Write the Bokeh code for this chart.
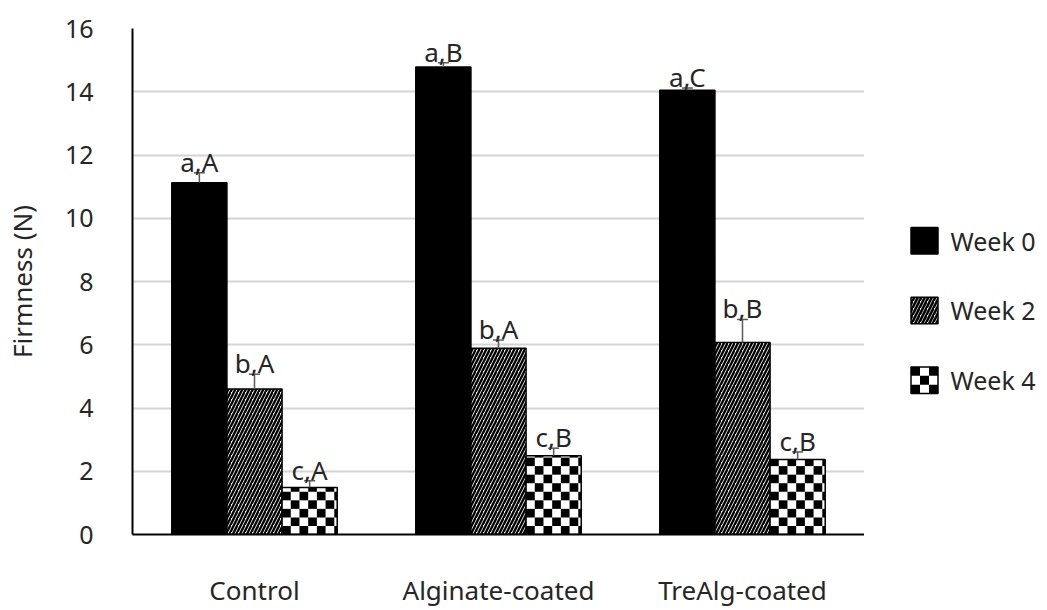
import math
from bokeh.plotting import figure
from bokeh.layouts import row
from bokeh.models import ColumnDataSource, FactorRange, Range1d, FixedTicker
from bokeh.transform import dodge
from bokeh.core.properties import value
from bokeh.embed import file_html
from bokeh.resources import INLINE

# Firmness of fruit (N) by coating treatment over storage time
categories = ["Control", "Alginate-coated", "TreAlg-coated"]
series_names = ["Week 0", "Week 2", "Week 4"]

week0 = [11.12, 14.78, 14.05]
week0_err = [0.32, 0.14, 0.07]
week0_lbl = ["a,A", "a,B", "a,C"]

week2 = [4.60, 5.89, 6.07]
week2_err = [0.47, 0.26, 0.73]
week2_lbl = ["b,A", "b,A", "b,B"]

week4 = [1.49, 2.49, 2.37]
week4_err = [0.21, 0.24, 0.24]
week4_lbl = ["c,A", "c,B", "c,B"]

y_ticks = [0, 2, 4, 6, 8, 10, 12, 14, 16]

FONT = "Noto Sans"
TEXT_COLOR = "#262626"
FS = "25px"
FS_LABEL = "26px"
ERR_COLOR = "#595959"

# ---------------------------------------------------------------- main chart
PLOT_W, PLOT_H = 864, 610
BORDER_L, BORDER_T, BORDER_B = 132, 28, 67
Y_MAX = 16

p = figure(
    x_range=FactorRange(*categories, range_padding=0),
    y_range=Range1d(0, Y_MAX),
    width=PLOT_W, height=PLOT_H,
    min_border_left=BORDER_L, min_border_right=0,
    min_border_top=BORDER_T, min_border_bottom=BORDER_B,
    toolbar_location=None, output_backend="svg",
)
p.outline_line_color = None
p.background_fill_color = "white"
p.border_fill_color = "white"

p.yaxis.ticker = FixedTicker(ticks=y_ticks)
p.yaxis.axis_label = "Firmness (N)"
p.yaxis.axis_label_text_font = FONT
p.yaxis.axis_label_text_font_size = FS_LABEL
p.yaxis.axis_label_text_font_style = "normal"
p.yaxis.axis_label_text_color = TEXT_COLOR
p.yaxis.axis_label_standoff = 22
for ax in (p.xaxis, p.yaxis):
    ax.major_label_text_font = FONT
    ax.major_label_text_font_size = FS
    ax.major_label_text_color = TEXT_COLOR
    ax.major_tick_line_color = None
    ax.minor_tick_line_color = None
    ax.axis_line_color = "black"
    ax.axis_line_width = 2
p.xaxis.major_label_text_font_size = FS_LABEL
p.yaxis.major_label_standoff = 33
p.xaxis.major_label_standoff = 31

p.xgrid.grid_line_color = None
p.ygrid.grid_line_color = "#d4d4d4"
p.ygrid.grid_line_width = 2

src = ColumnDataSource(dict(
    cat=categories,
    w0=week0, w0_top=[v + e for v, e in zip(week0, week0_err)], w0_lbl=week0_lbl,
    w2=week2, w2_top=[v + e for v, e in zip(week2, week2_err)], w2_lbl=week2_lbl,
    w4=week4, w4_top=[v + e for v, e in zip(week4, week4_err)], w4_lbl=week4_lbl,
))

bw = 0.226
offsets = [-bw, 0.0, bw]
keys = ["w0", "w2", "w4"]

# bars
x0 = dodge("cat", offsets[0], range=p.x_range)
x2 = dodge("cat", offsets[1], range=p.x_range)
x4 = dodge("cat", offsets[2], range=p.x_range)
p.vbar(x=x0, top="w0", width=bw, source=src, fill_color="black",
       line_color="black", line_width=1.5)
p.vbar(x=x2, top="w2", width=bw, source=src, fill_color="white",
       hatch_pattern=value("/"), hatch_color="black", hatch_scale=7,
       hatch_weight=2.4, line_color="black", line_width=1.5)
p.vbar(x=x4, top="w4", width=bw, source=src, fill_color="white",
       line_color=None)

# checkerboard fill of the Week 4 bars, cut to each bar's height
frame_w = PLOT_W - BORDER_L
frame_h = PLOT_H - BORDER_T - BORDER_B
cell_px = 8.7
sx = cell_px / (frame_w / len(categories))
sy = cell_px / (frame_h / Y_MAX)
ql, qr, qb, qt = [], [], [], []
for i, v in enumerate(week4):
    left = i + 0.5 + offsets[2] - bw / 2
    right = left + bw
    for c in range(math.ceil(bw / sx)):
        for r in range(math.ceil(v / sy)):
            if (c + r) % 2:
                continue
            ql.append(left + c * sx)
            qr.append(min(left + (c + 1) * sx, right))
            qb.append(r * sy)
            qt.append(min((r + 1) * sy, v))
p.quad(left=ql, right=qr, bottom=qb, top=qt, fill_color="black", line_color=None)
p.vbar(x=x4, top="w4", width=bw, source=src, fill_color=None,
       line_color="black", line_width=1.5)

# error bars and significance letters
for key, xs in zip(keys, (x0, x2, x4)):
    p.segment(x0=xs, y0=key, x1=xs, y1=key + "_top", source=src,
              line_color=ERR_COLOR, line_width=1.5)
    p.scatter(x=xs, y=key + "_top", marker="dash", size=11, source=src,
              line_color=ERR_COLOR, line_width=1.5)
    p.text(x=xs, y=key + "_top", text=key + "_lbl", source=src,
           text_align="center", text_baseline="alphabetic", y_offset=-11,
           text_font=value(FONT), text_font_size=FS_LABEL, text_color=TEXT_COLOR)

# ---------------------------------------------------------------- legend panel
# drawn in page pixels: x from the panel's left edge, y from the page top
LEG_W = 1047 - PLOT_W
lg = figure(
    width=LEG_W, height=PLOT_H,
    x_range=Range1d(0, LEG_W), y_range=Range1d(PLOT_H - BORDER_B, BORDER_T),
    min_border_left=0, min_border_right=0,
    min_border_top=BORDER_T, min_border_bottom=BORDER_B,
    toolbar_location=None, output_backend="svg",
    x_axis_location=None, y_axis_location=None,
)
lg.grid.visible = False
lg.outline_line_color = None
lg.background_fill_color = "white"
lg.border_fill_color = "white"

sw = 27          # swatch size
sw_x = 46.5      # swatch left edge
row_y0 = 244     # first row centre
row_dy = 71      # row pitch
centers = [row_y0 + i * row_dy for i in range(len(series_names))]
tops = [c - sw / 2 for c in centers]
bots = [c + sw / 2 for c in centers]

lg.quad(left=[sw_x], right=[sw_x + sw], top=[tops[0]], bottom=[bots[0]],
        fill_color="black", line_color="black", line_width=1.5)
lg.quad(left=[sw_x], right=[sw_x + sw], top=[tops[1]], bottom=[bots[1]],
        fill_color="white", hatch_pattern=value("/"), hatch_color="black",
        hatch_scale=7, hatch_weight=2.6, line_color="black", line_width=1.5)
lg.quad(left=[sw_x], right=[sw_x + sw], top=[tops[2]], bottom=[bots[2]],
        fill_color="white", line_color=None)
cs = sw / 3
cl, cr, ct, cb = [], [], [], []
for c in range(3):
    for r in range(3):
        if (c + r) % 2 == 0:
            cl.append(sw_x + c * cs)
            cr.append(sw_x + (c + 1) * cs)
            ct.append(tops[2] + r * cs)
            cb.append(tops[2] + (r + 1) * cs)
lg.quad(left=cl, right=cr, top=ct, bottom=cb, fill_color="black", line_color=None)
lg.quad(left=[sw_x], right=[sw_x + sw], top=[tops[2]], bottom=[bots[2]],
        fill_color=None, line_color="black", line_width=1.5)

lg.text(x=[sw_x + sw + 12.5] * len(series_names), y=centers, text=series_names,
        text_align="left", text_baseline="middle",
        text_font=value(FONT), text_font_size=FS, text_color=TEXT_COLOR)

layout = row(p, lg)
open("out.html", "w").write(file_html(layout, INLINE))
